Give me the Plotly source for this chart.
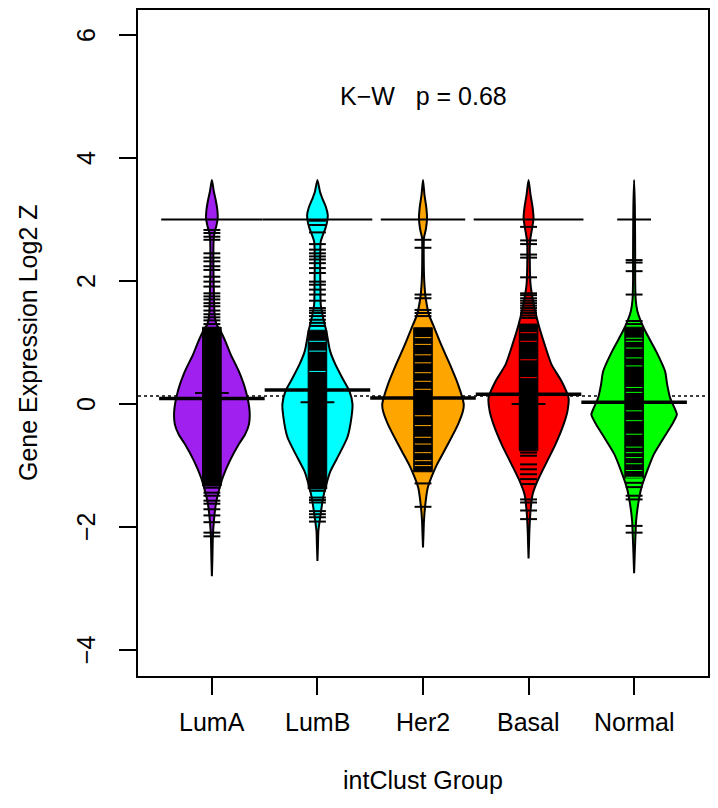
import plotly.graph_objects as go

# ---------------- data ----------------
groups = ["LumA", "LumB", "Her2", "Basal", "Normal"]
colors = ["#A020F0", "#00FFFF", "#FFA500", "#FF0000", "#00FF00"]

# density outlines (value levels and half-widths in x units)
lumA_y = [3.64, 3.45, 3.30, 3.15, 3.02, 2.90, 2.78, 2.65, 2.40, 2.16, 1.80, 1.45, 1.30, 1.18, 1.00, 0.80, 0.53, 0.21, -0.11, -0.33, -0.50, -0.65, -0.92, -1.19, -1.41, -1.62, -1.90, -2.17, -2.50, -2.80]
lumA_w = [0, .019, .038, .052, .055, .043, .024, .016, .014, .015, .019, .026, .043, .085, .133, .18, .256, .322, .357, .351, .313, .256, .171, .104, .066, .038, .019, .009, .005, 0]
lumB_y = [3.64, 3.45, 3.34, 3.20, 3.07, 2.95, 2.86, 2.75, 2.64, 2.40, 2.16, 1.90, 1.62, 1.40, 1.18, 0.86, 0.64, 0.42, 0.21, 0.0, -0.22, -0.54, -0.81, -1.09, -1.30, -1.52, -1.84, -2.06, -2.30, -2.55]
lumB_w = [0, .024, .047, .081, .098, .09, .076, .052, .031, .026, .026, .028, .031, .054, .085, .12, .171, .237, .303, .332, .322, .284, .208, .123, .085, .054, .026, .009, .005, 0]
her2_y = [3.64, 3.40, 3.20, 3.02, 2.85, 2.70, 2.37, 1.99, 1.72, 1.45, 1.29, 0.97, 0.64, 0.32, 0.0, -0.11, -0.33, -0.65, -0.98, -1.19, -1.36, -1.63, -1.90, -2.10, -2.33]
her2_w = [0, .014, .031, .038, .028, .009, .007, .012, .026, .057, .095, .171, .256, .332, .386, .379, .332, .237, .133, .079, .045, .022, .009, .005, 0]
basal_y = [3.64, 3.40, 3.20, 3.02, 2.85, 2.65, 2.30, 1.94, 1.72, 1.51, 1.29, 0.97, 0.64, 0.37, 0.10, -0.11, -0.33, -0.65, -0.98, -1.25, -1.47, -1.73, -2.06, -2.30, -2.51]
basal_w = [0, .019, .038, .047, .033, .014, .012, .019, .038, .063, .095, .152, .218, .313, .379, .369, .332, .256, .161, .085, .038, .019, .008, .004, 0]
normal_y = [3.64, 3.20, 2.80, 2.40, 2.00, 1.70, 1.51, 1.35, 1.13, 0.86, 0.53, 0.32, 0.10, -0.05, -0.17, -0.33, -0.54, -0.81, -1.09, -1.36, -1.63, -1.90, -2.17, -2.45, -2.75]
normal_w = [0, .007, .009, .010, .010, .015, .031, .063, .123, .208, .294, .313, .341, .379, .405, .36, .284, .189, .123, .069, .038, .019, .012, .006, 0]

# individual bean lines (single observations) visible outside the dense block
lumA_pts = [2.83, 2.78, 2.72, 2.67, 2.45, 2.38, 2.32, 2.24, 2.18, 2.07, 1.99, 1.91, 1.80, 1.75, 1.70, 1.64, 1.59, 1.52, 1.46, 1.41, 1.36, 1.30,
            -1.36, -1.44, -1.49, -1.57, -1.62, -1.71, -1.81, -1.92, -2.09, -2.15]
lumB_pts = [2.98, 2.91, 2.79, 2.60, 2.51, 2.45, 2.40, 2.35, 2.29, 2.21, 2.13, 1.99, 1.94, 1.86, 1.78, 1.68, 1.56, 1.52, 1.48, 1.43, 1.37, 1.32, 1.27,
            -1.35, -1.41, -1.52, -1.56, -1.60, -1.74, -1.79, -1.84, -1.91]
her2_pts = [2.67, 2.54, 1.78, 1.72, 1.53, 1.48, 1.43, -1.29, -1.67]
basal_pts = [2.88, 2.66, 2.60, 2.43, 2.38, 2.06, 1.80, 1.77, 1.72, 1.68, 1.64, 1.60, 1.56, 1.52, 1.48, 1.44, 1.40,
             -0.79, -0.84, -0.98, -1.06, -1.14, -1.22, -1.30, -1.55, -1.60, -1.73, -1.87]
normal_pts = [2.34, 2.30, 2.16, 1.78, 1.35, 1.30, -1.28, -1.35, -1.49, -1.55, -1.98, -2.09]

# dense run of observations (appears as a solid block): low, high
block_lo = [-1.33, -1.38, -1.10, -0.76, -1.20]
block_hi = [1.25, 1.20, 1.24, 1.30, 1.25]
# small gaps between observations inside the dense block
lumA_gaps = []
lumB_gaps = [1.02, 0.86, 0.53]
her2_gaps = [1.08, 0.97, 0.80, 0.67, 0.51, 0.37, 0.24, -0.19, -0.35, -0.54, -0.65, -0.79, -0.92, -1.00]
basal_gaps = [1.16, 1.02, 0.72, 0.43]
normal_gaps = [1.07, 1.02, 0.91, 0.75, 0.62, 0.27, 0.19, -0.11, -0.27, -0.49, -0.70, -0.79, -0.87, -0.97, -1.08, -1.19]

# repeated values (value, count of duplicates)
dup_vals = [[3.0, 0.18], [3.0, 0.03], [3.0], [3.0, 0.0], [3.0]]
dup_counts = [[6, 2], [6.5, 2], [5], [6.5, 2], [2]]

group_means = [0.09, 0.23, 0.10, 0.16, 0.03]
overall_mean = 0.13

y_ticks = [-4, -2, 0, 2, 4, 6]
y_tick_labels = ["\u22124", "\u22122", "0", "2", "4", "6"]
x_ticks = [1, 2, 3, 4, 5]
title_text = "K\u2212W\u00a0\u00a0\u00a0p = 0.68"
x_title = "intClust Group"
y_title = "Gene Expression Log2 Z"

profiles_y = [lumA_y, lumB_y, her2_y, basal_y, normal_y]
profiles_w = [lumA_w, lumB_w, her2_w, basal_w, normal_w]
points = [lumA_pts, lumB_pts, her2_pts, basal_pts, normal_pts]
gaps = [lumA_gaps, lumB_gaps, her2_gaps, basal_gaps, normal_gaps]

# ---------------- figure ----------------
FONT = "Liberation Sans, Arial, Helvetica, sans-serif"
FS = 25
LL = 0.08      # bean line half length (x units)
BL = 0.088     # block half width
XR = [0.3, 5.7]
YR = [-4.42, 6.405]

fig = go.Figure()

# overall mean dotted line
fig.add_trace(go.Scatter(x=XR, y=[overall_mean, overall_mean], mode="lines",
                         line=dict(color="black", width=1.5, dash="dot"),
                         hoverinfo="skip", showlegend=False))

for i, g in enumerate(groups):
    c = x_ticks[i]
    Y = profiles_y[i]
    W = profiles_w[i]
    xs = [c + w for w in W] + [c - w for w in reversed(W)]
    ys = list(Y) + list(reversed(Y))
    fig.add_trace(go.Scatter(x=xs, y=ys, mode="lines", fill="toself",
                             fillcolor=colors[i],
                             line=dict(color="black", width=2, shape="spline", smoothing=0.6),
                             hoverinfo="skip", showlegend=False, name=g))
    # dense block
    fig.add_trace(go.Scatter(x=[c - BL, c + BL, c + BL, c - BL, c - BL],
                             y=[block_lo[i], block_lo[i], block_hi[i], block_hi[i], block_lo[i]],
                             mode="lines", fill="toself", fillcolor="black",
                             line=dict(color="black", width=1),
                             hoverinfo="skip", showlegend=False))
    # gaps
    gx, gy = [], []
    for v in gaps[i]:
        gx += [c - BL + 0.01, c + BL - 0.01, None]
        gy += [v, v, None]
    if gx:
        fig.add_trace(go.Scatter(x=gx, y=gy, mode="lines",
                                 line=dict(color=colors[i], width=1),
                                 hoverinfo="skip", showlegend=False))
    # single bean lines
    lx, ly = [], []
    for v in points[i]:
        lx += [c - LL, c + LL, None]
        ly += [v, v, None]
    fig.add_trace(go.Scatter(x=lx, y=ly, mode="lines",
                             line=dict(color="black", width=2),
                             hoverinfo="skip", showlegend=False))
    # repeated values (longer lines)
    for v, n in zip(dup_vals[i], dup_counts[i]):
        fig.add_trace(go.Scatter(x=[c - LL * n, c + LL * n], y=[v, v], mode="lines",
                                 line=dict(color="black", width=2),
                                 hoverinfo="skip", showlegend=False))
    # group mean line
    fig.add_trace(go.Scatter(x=[c - 0.5, c + 0.5], y=[group_means[i]] * 2, mode="lines",
                             line=dict(color="black", width=3.5),
                             hoverinfo="skip", showlegend=False))

ann = []
for v, t in zip(y_ticks, y_tick_labels):
    ann.append(dict(x=0, xref="paper", y=v, yref="y", text=t, textangle=-90,
                    showarrow=False, xshift=-52, xanchor="center", yanchor="middle",
                    font=dict(family=FONT, size=FS, color="black")))
for xv, t in zip(x_ticks, groups):
    ann.append(dict(x=xv, xref="x", y=0, yref="paper", text=t, showarrow=False,
                    yshift=-46, xanchor="center", yanchor="middle",
                    font=dict(family=FONT, size=FS, color="black")))
ann.append(dict(x=0.5, xref="paper", y=0, yref="paper", text=x_title, showarrow=False,
                yshift=-104, xanchor="center", yanchor="middle",
                font=dict(family=FONT, size=FS, color="black")))
ann.append(dict(x=0, xref="paper", y=0.5, yref="paper", text=y_title, textangle=-90,
                showarrow=False, xshift=-110, xanchor="center", yanchor="middle",
                font=dict(family=FONT, size=FS, color="black")))
ann.append(dict(x=3, xref="x", y=5, yref="y", text=title_text, showarrow=False,
                xanchor="center", yanchor="middle",
                font=dict(family=FONT, size=FS, color="black")))

# the page body adds an 8px offset, so the figure is sized to fit the window
fig.update_layout(
    width=710, height=800,
    margin=dict(l=130, r=10, t=0, b=132),
    paper_bgcolor="white", plot_bgcolor="white",
    showlegend=False,
    annotations=ann,
    xaxis=dict(range=XR, tickvals=x_ticks, ticks="outside", ticklen=17, tickwidth=1.5,
               tickcolor="black", showticklabels=False, showline=True, mirror=True,
               linecolor="black", linewidth=1.5, showgrid=False, zeroline=False, fixedrange=True),
    yaxis=dict(range=YR, tickvals=y_ticks, ticks="outside", ticklen=17, tickwidth=1.5,
               tickcolor="black", showticklabels=False, showline=True, mirror=True,
               linecolor="black", linewidth=1.5, showgrid=False, zeroline=False, fixedrange=True),
)

fig.write_html("out.html")
